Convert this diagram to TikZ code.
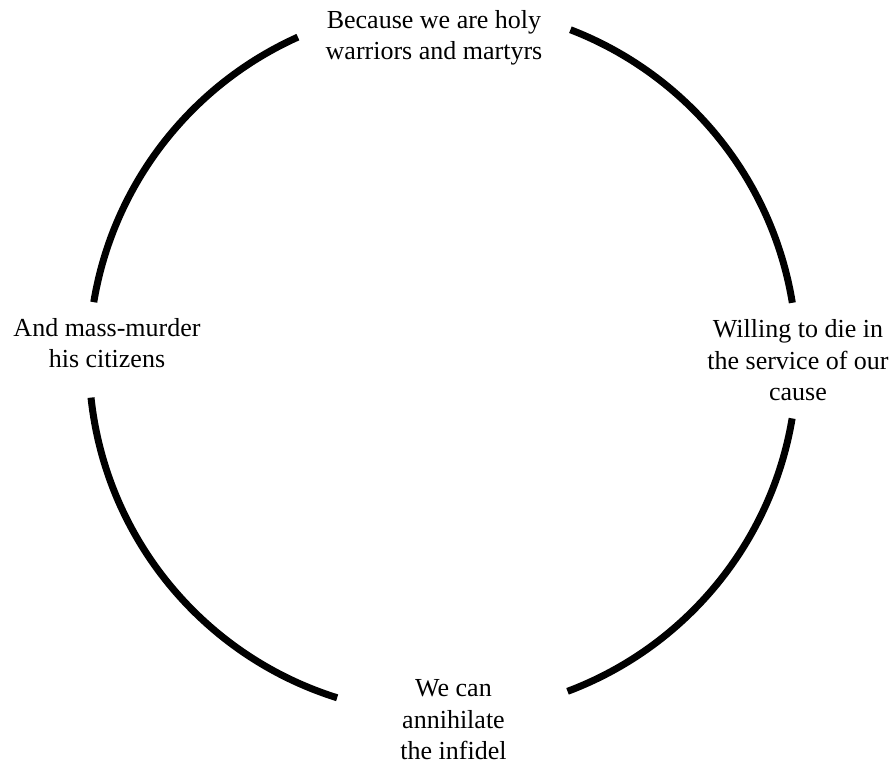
\documentclass[tikz,border=0pt]{standalone}
\usepackage{fontspec}
\setmainfont{Liberation Serif}
\begin{document}
\begin{tikzpicture}[x=1pt,y=1pt,
  lbl/.style={align=center,inner sep=0pt,font=\fontsize{26}{31.5}\selectfont},
  ring/.style={line width=7pt,line cap=butt}]
\useasboundingbox (0,0) rectangle (895,765);
\coordinate (c) at (443,405);
\def\R{354}
\draw[ring] (c) ++(9.3:\R) arc[start angle=9.3,end angle=68.9,radius=\R];
\draw[ring] (c) ++(114.2:\R) arc[start angle=114.2,end angle=170.6,radius=\R];
\draw[ring] (c) ++(186.1:\R) arc[start angle=186.1,end angle=252.6,radius=\R];
\draw[ring] (c) ++(290.6:\R) arc[start angle=290.6,end angle=350.5,radius=\R];
\node[lbl,anchor=base] (top) at (434,705) {Because we are holy\\warriors and martyrs};
\node[lbl,anchor=base] (right) at (798,364) {Willing to die in\\the service of our\\cause};
\node[lbl,anchor=base] (bottom) at (453.5,5) {We can\\annihilate\\the infidel};
\node[lbl,anchor=base] (left) at (107,397) {And mass-murder\\his citizens};
\end{tikzpicture}
\end{document}
